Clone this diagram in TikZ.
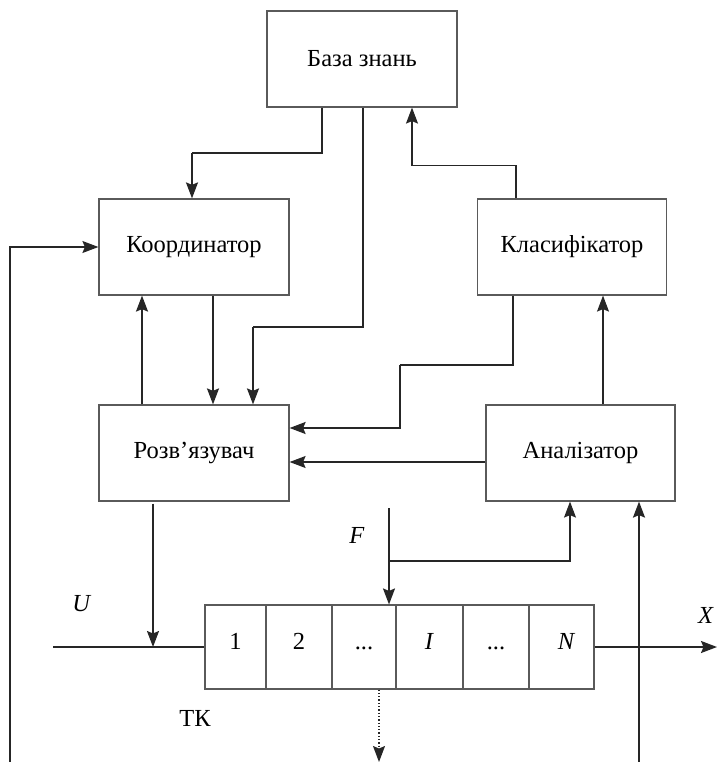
\documentclass[tikz,border=0pt]{standalone}
\usepackage{fontspec}
\setmainfont{Liberation Serif}
\usetikzlibrary{arrows.meta,calc}
\definecolor{boxc}{HTML}{5A5A5A}
\definecolor{linec}{HTML}{262626}
\begin{document}
\begin{tikzpicture}[x=1pt,y=-1pt,
  blk/.style={draw=boxc,line width=1.2pt,minimum width=190pt,minimum height=96pt,inner sep=0pt,font=\fontsize{24.5}{28}\selectfont},
  cell/.style={draw=boxc,line width=1.1pt,minimum height=84pt,inner sep=0pt,text height=16pt,text depth=12pt,font=\fontsize{24.5}{28}\selectfont},
  arr/.style={draw=linec,line width=1.8pt,-{Stealth[length=16pt,width=12pt,inset=2.5pt]}},
  tarr/.style={draw=linec,line width=1.1pt,-{Stealth[length=16pt,width=12pt,inset=2.5pt]}},
  thin/.style={draw=linec,line width=1.1pt},
  lbl/.style={font=\fontsize{24.5}{28}\selectfont,inner sep=0pt}]
\useasboundingbox (0,0) rectangle (717,762);
% blocks
\node[blk] (kb) at (362,59) {База знань};
\node[blk] (coord) at (194,247) {Координатор};
\node[blk] (solv) at (194,453) {Розв’язувач};
\node[blk,minimum width=189pt] (cls) at (572,247) {Класифікатор};
\node[blk,minimum width=189pt] (an) at (580.5,453) {Аналізатор};
% strip
\node[cell,minimum width=61pt] (c1) at (235.5,647) {1};
\node[cell,minimum width=66pt] (c2) at (299,647) {2};
\node[cell,minimum width=64pt] (c3) at (364,647) {...};
\node[cell,minimum width=67pt] (c4) at (429.5,647) {\textit{I}};
\node[cell,minimum width=66pt] (c5) at (496,647) {...};
\node[cell,minimum width=65pt] (c6) at (561.5,647) {\hspace*{10pt}\textit{N}};
% coordinates
\coordinate (uL) at (53,647);
\coordinate (fT) at (389,508);
\coordinate (vB) at (639,762);
\coordinate (xE) at (717,647);
\coordinate (lB) at (10,762);
\coordinate (dB) at (379,762);
\coordinate (kc) at (192,153);
\coordinate (ks) at (253,327);
\coordinate (cs) at (400,365);
% connectors
\draw[thin] ([xshift=-40pt]kb.south) |- (kc);
\draw[arr] (kc) -- (kc |- coord.north);
\draw[thin] ([xshift=1pt]kb.south) |- (ks);
\draw[arr] (ks) -- (ks |- solv.north);
\draw[tarr] ([xshift=-56pt]cls.north) -- ++(0,-33) -| ([xshift=50pt]kb.south);
\draw[arr] ([xshift=19pt]coord.south) -- ([xshift=19pt]solv.north);
\draw[arr] ([xshift=-52pt]solv.north) -- ([xshift=-52pt]coord.south);
\draw[thin] ([xshift=-59pt]cls.south) |- (cs);
\draw[arr] (cs) |- ([yshift=25pt]solv.east);
\draw[tarr] ([yshift=-9pt]an.west) -- ([yshift=-9pt]solv.east);
\draw[tarr] ([xshift=22.5pt]an.north) -- ([xshift=22.5pt]an.north |- cls.south);
\draw[thin] (uL) -- (c1.west);
\draw[arr] ([xshift=-41pt,yshift=-2pt]solv.south) -- ([xshift=-41pt]solv.south |- uL);
\draw[arr] (fT) -- (fT |- c4.north);
\draw[tarr] (fT |- 0,561) -| ([xshift=-10.5pt]an.south);
\draw[arr] (vB) -- (vB |- an.south);
\draw[arr] (c6.east) -- (xE);
\draw[line width=1.3pt,linec,dotted,-{Stealth[length=16pt,width=12pt,inset=2.5pt]}] ([xshift=15pt]c3.south) -- (dB);
\draw[tarr] (lB) |- (coord.west);
% labels
\node[lbl] (lu) at (82,604) {\textit{U}};
\node[lbl] (lf) at (357,535) {\textit{F}};
\node[lbl] (lx) at (706,615) {\textit{X}};
\node[lbl] (ltk) at (195,718) {ТК};
\end{tikzpicture}
\end{document}
